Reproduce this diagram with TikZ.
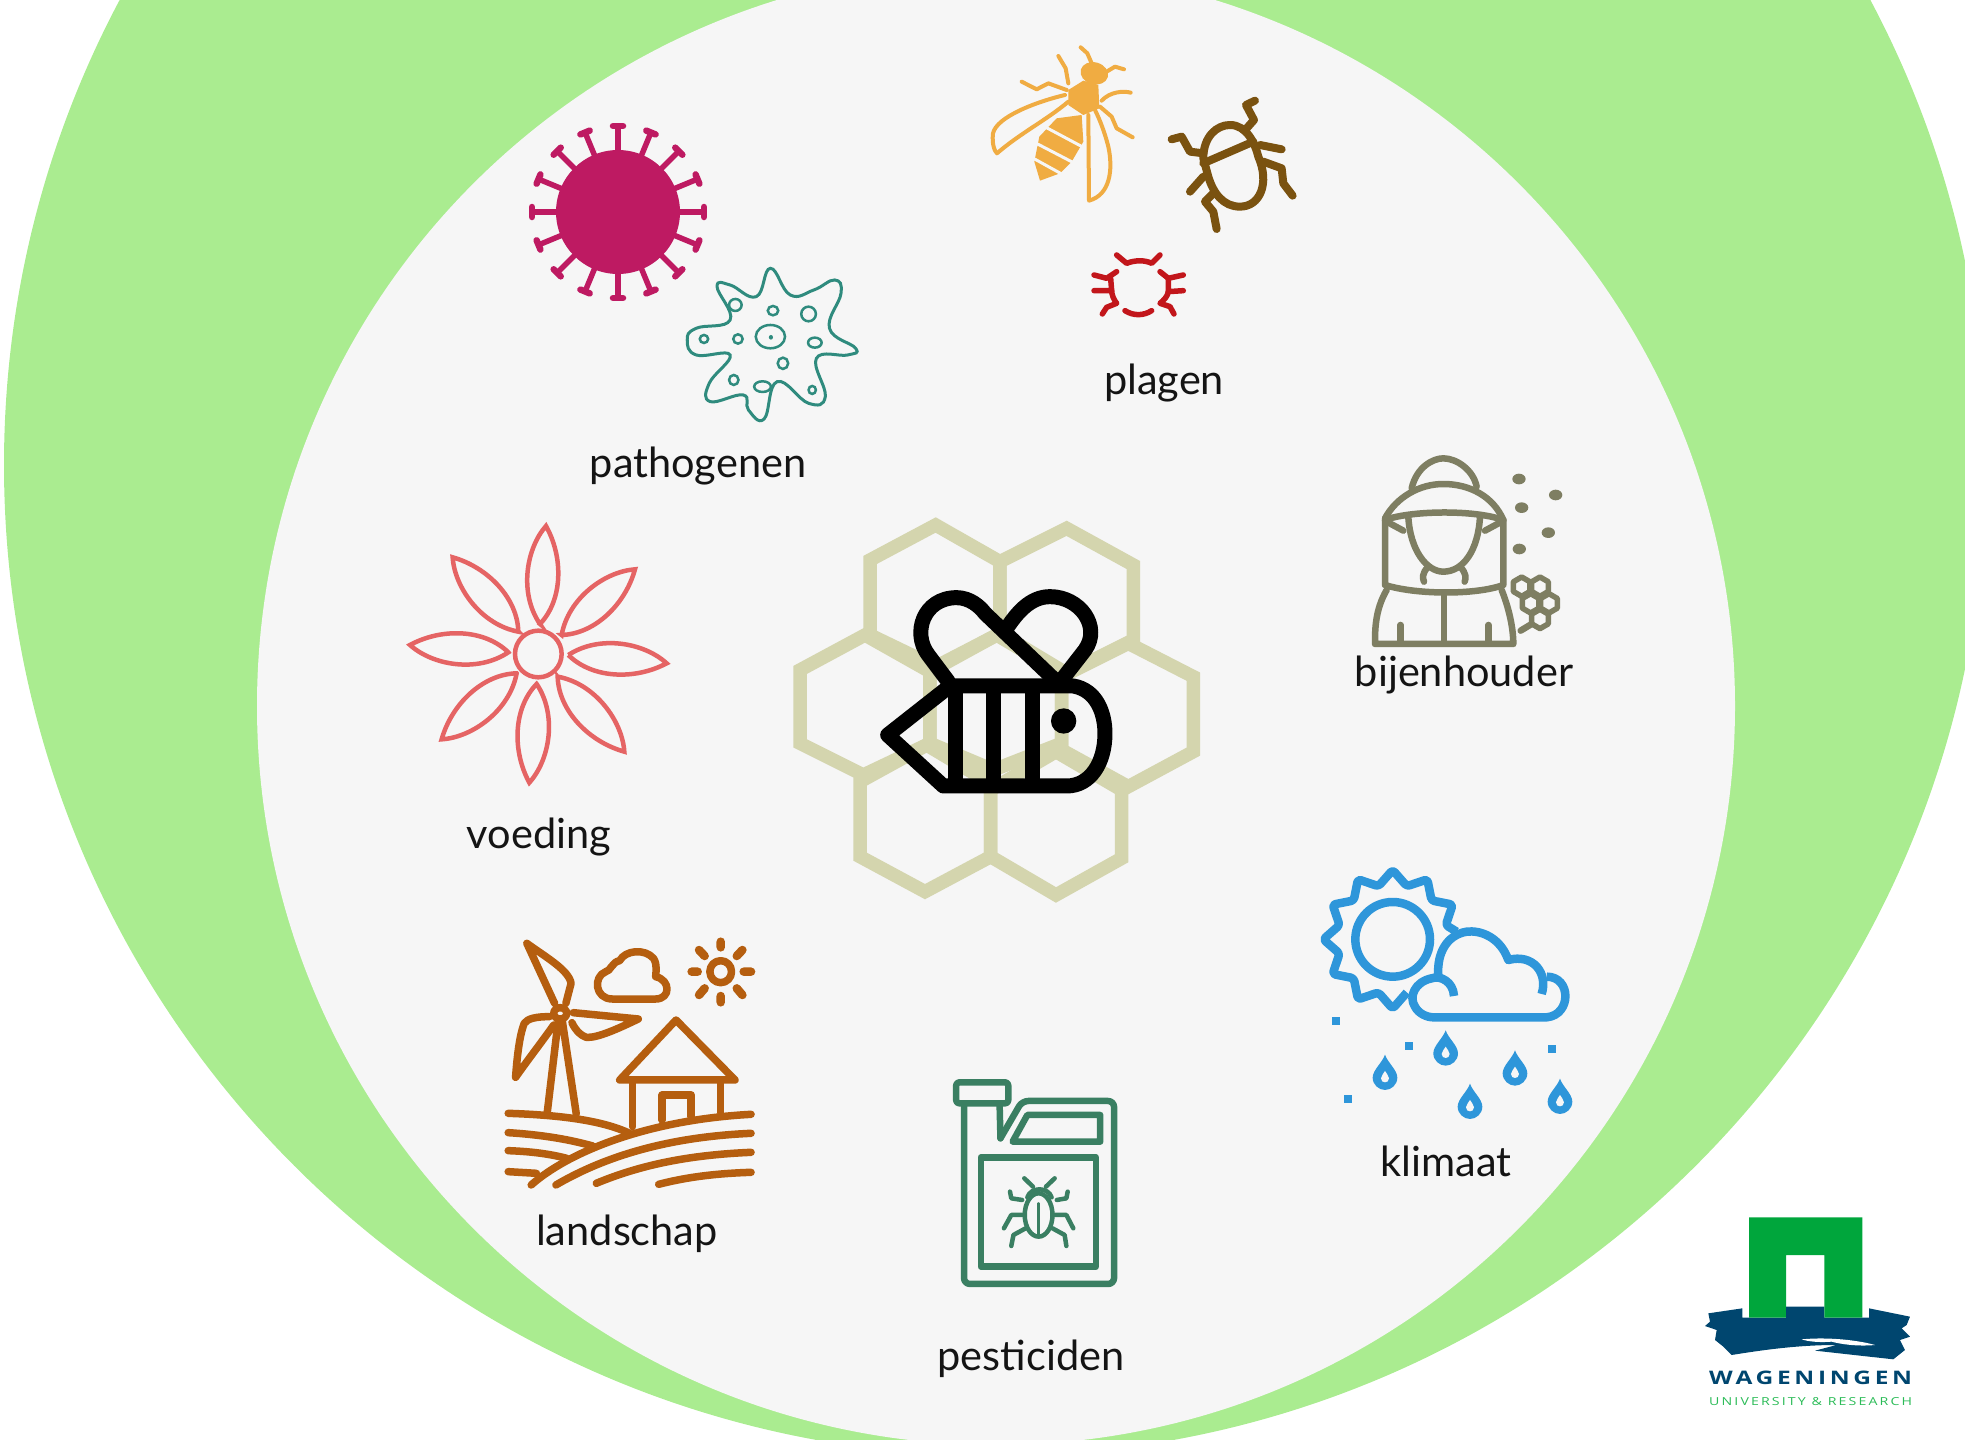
\documentclass[tikz,border=0pt]{standalone}
\usepackage{fontspec}
\usepackage{graphicx}
\setmainfont{Lato}
\newfontfamily\logofont[LetterSpace=15]{Open Sans}
\usetikzlibrary{calc}
\definecolor{ringgreen}{HTML}{AAEC90}
\definecolor{discgrey}{HTML}{F6F6F6}
\definecolor{virusc}{HTML}{BE1A62}
\definecolor{amoebac}{HTML}{2F8B7E}
\definecolor{waspc}{HTML}{F0AC42}
\definecolor{beetlec}{HTML}{7A5210}
\definecolor{miterc}{HTML}{C2161B}
\definecolor{combc}{HTML}{D4D5AE}
\definecolor{petalc}{HTML}{E56464}
\definecolor{landc}{HTML}{B55E0F}
\definecolor{canc}{HTML}{3A7F62}
\definecolor{keeperc}{HTML}{7E7E62}
\definecolor{skyc}{HTML}{2E96DA}
\definecolor{wurgreen}{HTML}{00A63C}
\definecolor{wurblue}{HTML}{00466F}
\definecolor{wurlight}{HTML}{2BBB57}
\tikzset{
  lbl/.style={inner sep=0pt,anchor=base,font=\fontsize{41.5}{41.5}\selectfont,text=black!92},
  icon/.style={line cap=round,line join=round},
  comb/.style={draw=combc,line width=13.5pt,line join=miter},
  beeline/.style={draw=black,line width=15pt,line cap=round,line join=round},
}
\newcommand\petalshape[2]{\draw[petalc,line width=4.5pt,line join=miter]
  (#1) .. controls ($(#1)!0.38!38:(#2)$) and ($(#1)!0.78!14:(#2)$) .. (#2)
  .. controls ($(#1)!0.72!-16:(#2)$) and ($(#1)!0.34!-40:(#2)$) .. cycle;}
\newcommand\smallhex[2]{\draw[keeperc,line width=5.5pt,line join=round]
  (#1,#2-29) -- (#1+25,#2-14.5) -- (#1+25,#2+14.5) -- (#1,#2+29) -- (#1-25,#2+14.5) -- (#1-25,#2-14.5) -- cycle;}
\newcommand\raindrop[2]{\fill[skyc] (#1,#2-54) .. controls (#1+8,#2-30) and (#1+37,#2-8) .. (#1+37,#2+15)
  .. controls (#1+37,#2+37) and (#1+18,#2+52) .. (#1,#2+52) .. controls (#1-18,#2+52) and (#1-37,#2+37) .. (#1-37,#2+15)
  .. controls (#1-37,#2-8) and (#1-8,#2-30) .. cycle;
  \fill[discgrey] (#1,#2-5) .. controls (#1+3,#2+3) and (#1+12,#2+8) .. (#1+12,#2+17)
  .. controls (#1+12,#2+25) and (#1+6,#2+29) .. (#1,#2+29) .. controls (#1-6,#2+29) and (#1-12,#2+25) .. (#1-12,#2+17)
  .. controls (#1-12,#2+8) and (#1-3,#2+3) .. cycle;}
\begin{document}
\begin{tikzpicture}[x=1pt,y=-1pt]
\useasboundingbox (0,0) rectangle (1965,1440);
\clip (0,0) rectangle (1965,1440);
\fill[ringgreen] (995,465) circle [radius=991];
\fill[discgrey] (996,706) circle [radius=739];

% ---------- virus
\fill[virusc] (618,212) circle [radius=62];
\foreach \i in {0,...,15}{
  \pgfmathsetmacro\ca{cos(\i*22.5)}\pgfmathsetmacro\sa{sin(\i*22.5)}
  \draw[virusc,line width=5.5pt] ({618+58*\ca},{212+58*\sa}) -- ({618+85*\ca},{212+85*\sa});
  \draw[virusc,line width=6.5pt,line cap=round] ({618+86*\ca-5*\sa},{212+86*\sa+5*\ca}) -- ({618+86*\ca+5*\sa},{212+86*\sa-5*\ca});
}

% ---------- amoeba (zoom 1 frame)
\begin{scope}[shift={(500,20)},xscale=0.523,yscale=0.3333]
\draw[amoebac,line width=3pt] plot[smooth cycle,tension=0.75] coordinates {
 (517,745) (555,825) (600,810) (640,780) (652,820) (630,925) (680,985) (665,1005) (605,1015) (622,1130) (590,1150) (530,1085) (505,1197) (475,1170) (465,1125) (402,1145) (400,1090) (440,1005) (375,1005) (358,960) (375,925) (440,900) (415,800) (440,795) (490,830)};
\foreach \cx/\cy/\rx/\ry in {450/855/12/18,522/872/10/14,590/882/14/22,390/957/8/12,455/957/9/14,517/950/28/35,602/968/13/15,541/1030/10/17,447/1080/9/15,502/1100/16/16,597/1110/7/12}
  \draw[amoebac,line width=2.5pt] (\cx,\cy) ellipse [x radius=\rx,y radius=\ry];
\fill[amoebac] (518,952) ellipse [x radius=4,y radius=7];
\end{scope}

% ---------- wasp, beetle, mite (uniform frame)
\begin{scope}[shift={(1000,30)},scale=0.3333]
\fill[waspc,rotate around={-15:(283,130)}] (283,130) ellipse [x radius=42,y radius=33];
\fill[waspc] (205,180) -- (250,152) -- (295,165) -- (298,235) -- (250,255) -- (205,225) -- cycle;
\fill[waspc,line join=round] (245,255) -- (250,335) -- (215,395) -- (180,430) -- (120,452) -- (103,395) -- (118,320) -- (170,265) -- cycle;
\draw[discgrey,line width=3pt] (130,288) -- (250,352);
\draw[discgrey,line width=3pt] (105,338) -- (228,402);
\draw[discgrey,line width=3pt] (100,385) -- (185,432);
\begin{scope}[waspc,line width=4pt,icon]
\draw (195,195) .. controls (110,215) and (-10,260) .. (-21,310) .. controls (-25,345) and (-15,365) .. (-9,370) .. controls (60,310) and (140,270) .. (205,215);
\draw (265,255) -- (267,512) .. controls (330,495) and (340,420) .. (325,350) .. controls (315,310) and (300,270) .. (285,240);
\draw (205,160) -- (197,115) -- (175,78);
\draw (200,180) -- (145,160) -- (110,178) -- (65,155);
\draw (305,212) .. controls (330,185) and (370,182) .. (392,188);
\draw (300,230) -- (335,260) -- (350,295) -- (398,322);
\draw (275,100) -- (262,70) -- (242,52);
\draw (320,125) -- (345,110) -- (372,118);
\end{scope}
\begin{scope}[beetlec,line width=8pt,icon]
\draw (610,385) .. controls (610,320) and (650,285) .. (690,285) .. controls (740,285) and (765,340) .. (775,380) .. controls (810,460) and (780,530) .. (720,530) .. controls (670,530) and (640,490) .. (625,440) -- cycle;
\draw (610,400) -- (760,335);
\draw (765,212) -- (738,225) -- (762,270) -- (740,295);
\draw (515,328) -- (545,320) -- (570,365) -- (610,370);
\draw (780,345) -- (845,358);
\draw (790,395) -- (845,415) -- (850,460) -- (878,497);
\draw (570,485) -- (610,440);
\draw (650,597) -- (640,545) -- (615,515) -- (640,490);
\end{scope}
\begin{scope}[miterc,line width=5.5pt,icon]
\draw (350,675) -- (380,700) .. controls (405,690) and (435,690) .. (455,700) -- (480,675);
\draw (375,842) .. controls (400,858) and (430,858) .. (455,842);
\draw (350,725) -- (320,745) -- (282,735);
\draw (332,745) -- (335,782) -- (282,782);
\draw (335,782) .. controls (335,795) and (342,810) .. (350,820) -- (320,832) -- (307,852);
\draw (480,725) -- (505,745) -- (550,735);
\draw (505,745) -- (505,785) -- (550,782);
\draw (505,785) .. controls (503,800) and (490,812) .. (480,820) -- (510,830) -- (522,852);
\end{scope}
\end{scope}

% ---------- honeycomb and bee (zoom 2 frame)
\begin{scope}[shift={(780,500)},scale=0.3333]
\draw[comb] (467,75) -- (660,185) -- (660,400) -- (467,500) -- (270,405) -- (270,180) -- cycle;
\draw[comb] (860,85) -- (1060,195) -- (1060,420) -- (860,520) -- (660,400) -- (660,185) -- cycle;
\draw[comb] (255,405) -- (450,515) -- (450,730) -- (250,825) -- (60,730) -- (60,510) -- cycle;
\draw[comb] (650,405) -- (845,520) -- (845,730) -- (640,810) -- (450,730) -- (450,515) -- cycle;
\draw[comb] (1045,430) -- (1240,530) -- (1240,755) -- (1045,860) -- (845,750) -- (845,530) -- cycle;
\draw[comb] (240,845) -- (440,735) -- (632,850) -- (632,1070) -- (435,1175) -- (240,1070) -- cycle;
\draw[comb] (828,755) -- (1025,870) -- (1025,1075) -- (828,1185) -- (632,1070) -- (632,870) -- cycle;
\draw[beeline] (490,858) -- (323,705) -- (510,558) -- (880,558) .. controls (950,570) and (975,640) .. (975,700) .. controls (975,790) and (930,858) .. (860,858) -- cycle;
\draw[beeline] (505,545) -- (445,465) .. controls (395,400) and (430,293) .. (530,293) .. controls (570,293) and (600,320) .. (615,340) -- (835,550);
\draw[beeline] (680,385) .. controls (710,340) and (750,290) .. (810,290) .. controls (900,290) and (965,380) .. (915,450) -- (845,540);
\draw[beeline,line cap=butt] (528,558) -- (528,858) (642,558) -- (642,858) (757,558) -- (757,858);
\fill[black] (851,663) circle [radius=38];
\end{scope}

% ---------- flower (zoom 7 frame)
\begin{scope}[shift={(390,500)},scale=0.3333]
\draw[petalc,line width=4.5pt] (445,462) circle [radius=70];
\petalshape{450,372}{468,78}
\petalshape{515,405}{735,208}
\petalshape{535,465}{830,490}
\petalshape{503,530}{703,755}
\petalshape{440,552}{418,848}
\petalshape{380,520}{155,718}
\petalshape{355,457}{60,435}
\petalshape{385,395}{188,172}
\end{scope}

% ---------- landscape and can (zoom 3 frame)
\begin{scope}[shift={(480,920)},xscale=0.4337,yscale=0.3333]
\begin{scope}[landc,line width=7.5pt,icon]
\draw (185,280) ellipse [x radius=15,y radius=17];
\draw (172,250) -- (108,70) .. controls (150,110) and (205,150) .. (210,190) -- (198,250);
\draw (215,278) -- (365,297) .. controls (320,325) and (270,355) .. (245,352) .. controls (230,345) and (220,330) .. (212,308);
\draw (160,290) .. controls (130,290) and (110,295) .. (102,310) .. controls (90,350) and (85,420) .. (82,472) .. controls (110,420) and (140,370) .. (170,315);
\draw (180,305) -- (155,578) (190,305) -- (222,582);
\draw (305,237) .. controls (265,237) and (260,170) .. (290,155) .. controls (300,155) and (305,125) .. (322,122) .. controls (335,90) and (380,85) .. (400,115) .. controls (410,135) and (405,160) .. (405,170) .. controls (440,180) and (440,237) .. (405,237) -- cycle;
\draw (555,155) ellipse [x radius=25,y radius=33];
\draw[line width=8.5pt] (555,65) -- (555,82) (555,228) -- (555,247) (488,155) -- (502,155) (608,155) -- (625,155) (505,90) -- (518,108) (605,90) -- (592,108) (505,225) -- (518,205) (605,225) -- (592,205);
\draw (452,300) -- (322,480) -- (588,480) -- cycle;
\draw (352,480) -- (352,620) (555,480) -- (555,578);
\draw (420,600) -- (420,525) -- (487,525) -- (487,590);
\draw (65,580) .. controls (180,585) and (280,600) .. (345,640);
\draw (65,638) .. controls (150,645) and (210,660) .. (260,678);
\draw (65,692) .. controls (130,695) and (170,705) .. (200,715);
\draw (65,755) -- (130,760);
\draw (118,795) .. controls (200,700) and (380,600) .. (625,583);
\draw (175,795) .. controls (300,700) and (450,650) .. (625,640);
\draw (268,790) .. controls (370,735) and (480,705) .. (625,697);
\draw (412,793) .. controls (480,770) and (550,760) .. (625,757);
\end{scope}
\begin{scope}[canc,line width=6.5pt,line join=round,line cap=round]
\draw[rounded corners=3pt] (1098,487) rectangle (1218,550);
\draw[rounded corners=6pt] (1116,550) -- (1116,1092) -- (1462,1092) -- (1462,543) -- (1250,543) -- (1200,655);
\draw (1198,550) -- (1200,655);
\draw (1228,665) -- (1262,585) -- (1430,585) -- (1430,665) -- cycle;
\draw (1155,712) rectangle (1420,1040);
\begin{scope}[line width=4.5pt]
\draw (1288,885) ellipse [x radius=32,y radius=65];
\draw (1262,832) .. controls (1270,800) and (1310,800) .. (1318,832);
\draw (1255,775) -- (1275,800) (1325,775) -- (1305,800);
\draw[line width=2.5pt] (1288,850) -- (1288,945);
\draw (1250,840) -- (1225,835) -- (1222,815) (1330,840) -- (1352,835) -- (1355,815);
\draw (1255,885) -- (1225,885) -- (1208,925) (1322,885) -- (1352,885) -- (1368,925);
\draw (1258,925) -- (1230,945) -- (1225,978) (1320,925) -- (1348,945) -- (1352,978);
\end{scope}
\end{scope}
\end{scope}

% ---------- beekeeper (zoom 4 frame)
\begin{scope}[shift={(1300,440)},scale=0.3333]
\begin{scope}[keeperc,line width=6.5pt,icon]
\draw (335,145) .. controls (350,80) and (400,55) .. (430,55) .. controls (470,55) and (520,90) .. (530,140);
\draw (255,235) .. controls (290,170) and (360,132) .. (430,132) .. controls (510,132) and (580,170) .. (610,240);
\draw (255,240) .. controls (330,212) and (520,208) .. (610,240);
\draw (255,240) -- (255,435) .. controls (350,465) and (530,465) .. (610,435) -- (610,240);
\draw (260,245) -- (310,272) (605,245) -- (555,272);
\draw (325,230) .. controls (330,330) and (380,395) .. (430,395) .. controls (490,395) and (535,330) .. (540,230);
\draw (385,380) .. controls (365,400) and (368,415) .. (372,425) (480,380) .. controls (500,400) and (498,415) .. (494,425);
\draw (260,450) .. controls (225,510) and (225,570) .. (225,612) -- (640,612) .. controls (640,560) and (625,500) .. (605,450);
\draw (432,465) -- (432,610) (302,555) -- (302,610) (565,555) -- (565,610);
\smallhex{665}{440}
\smallhex{720}{440}
\smallhex{692}{490}
\smallhex{747}{490}
\smallhex{720}{537}
\draw (662,572) -- (695,552);
\end{scope}
\foreach \bx/\by in {657/117,767/165,665/203,745/278,658/327}
  \fill[keeperc] (\bx,\by) ellipse [x radius=20,y radius=16];
\end{scope}

% ---------- weather (zoom 5 frame)
\begin{scope}[shift={(1300,850)},scale=0.3333]
\draw[skyc,line width=8.5pt] (278,268) circle [radius=112];
\draw[skyc,line width=8.5pt,line join=round,rounded corners=3pt]
  (470,245) -- ({278+165*cos(15)},{268-165*sin(15)})
  \foreach \a in {30,60,...,270}{ -- ({278+208*cos(\a)},{268-208*sin(\a)}) -- ({278+165*cos(\a+15)},{268-165*sin(\a+15)}) };
\draw[skyc,line width=8.5pt,line cap=butt,line join=round]
  (725,432) .. controls (745,370) and (700,310) .. (625,330) .. controls (600,260) and (540,240) .. (500,245) .. controls (440,255) and (410,310) .. (415,378);
\draw[skyc,line width=8.5pt,line cap=butt,line join=round]
  (462,438) .. controls (460,395) and (420,375) .. (395,385) .. controls (345,395) and (325,440) .. (345,470) .. controls (355,490) and (380,502) .. (400,502) -- (740,502) .. controls (815,495) and (815,380) .. (740,380);
\foreach \dx/\dy in {437/595,255/668,510/755,645/655,780/740} { \raindrop{\dx}{\dy} }
\foreach \sx/\sy in {107/514,327/587,755/598,143/746}
  \fill[skyc] (\sx-12,\sy-12) rectangle (\sx+12,\sy+12);
\end{scope}

% ---------- logo (zoom 6 frame)
\begin{scope}[shift={(1680,1200)},scale=0.3333]
\fill[wurblue] (187,325) -- (187,353) -- (318,353) -- (318,320) -- (433,320) -- (433,353) -- (567,353) -- (567,325)
  -- (690,350) -- (680,375) -- (665,385) -- (690,410) -- (660,420) -- (675,450) -- (640,478) -- (405,452) -- (470,435)
  .. controls (360,435) and (260,448) .. (155,465) -- (130,440) -- (105,420) -- (110,390) -- (75,378) -- (90,365) -- (85,340) -- cycle;
\fill[white] (365,418) .. controls (450,410) and (540,422) .. (585,435) .. controls (530,440) and (480,432) .. (455,425) .. controls (420,428) and (385,425) .. cycle;
\fill[wurgreen] (207,52) -- (547,52) -- (547,353) -- (433,353) -- (433,165) -- (318,165) -- (318,353) -- (207,353) -- cycle;
\fill[wurblue] (318,320) rectangle (433,353);
\node[inner sep=0pt,text=wurblue] (wurname) at (392,535) {\resizebox{203pt}{13.5pt}{\logofont\bfseries WAGENINGEN}};
\node[inner sep=0pt,text=wurlight] (wursub) at (392,604) {\resizebox{203pt}{8pt}{\logofont UNIVERSITY \& RESEARCH}};
\end{scope}

% ---------- labels
\node[lbl] (pathogenen) at (698,477) {pathogenen};
\node[lbl] (plagen) at (1164,394) {plagen};
\node[lbl] (bijenhouder) at (1464,686) {bijenhouder};
\node[lbl] (voeding) at (539,848) {voeding};
\node[lbl] (landschap) at (627,1245) {landschap};
\node[lbl] (pesticiden) at (1031,1370) {pesticiden};
\node[lbl] (klimaat) at (1446,1176) {klimaat};
\end{tikzpicture}
\end{document}
